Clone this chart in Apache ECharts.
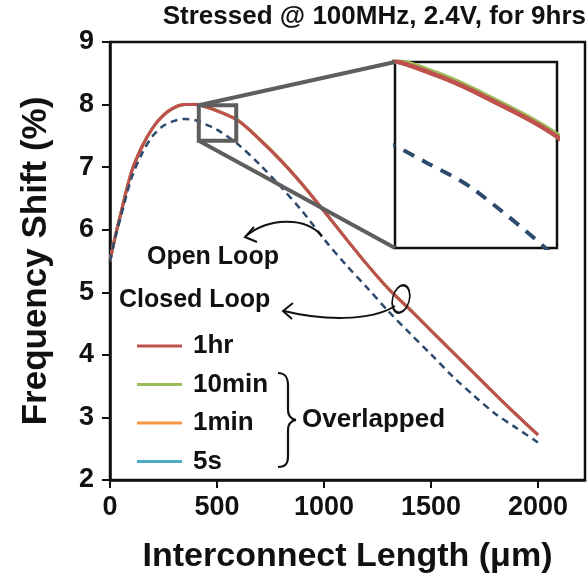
<!DOCTYPE html>
<html>
<head>
<meta charset="utf-8">
<script src="https://cdn.jsdelivr.net/npm/echarts@6/dist/echarts.min.js"></script>
<style>
  html, body { margin: 0; padding: 0; background: #fff; }
  #chart { width: 588px; height: 581px; }
</style>
</head>
<body>
<div id="chart"></div>
<script>
// interconnect length (um)
const lengths = [0, 25, 50, 100, 150, 200, 250, 300, 350, 400, 450, 500, 600, 700, 800, 900, 1000, 1100, 1200, 1300, 1400, 1500, 1600, 1700, 1800, 1900, 2000]

// closed loop, stressed for different times (all overlapped)
const closed1hr = [5.5, 5.9, 6.25, 6.92, 7.33, 7.63, 7.83, 7.95, 8.0, 8.0, 7.96, 7.9, 7.74, 7.44, 7.1, 6.72, 6.3, 5.87, 5.45, 5.06, 4.73, 4.39, 4.05, 3.71, 3.37, 3.04, 2.72]
const closed10min = [5.5, 5.9, 6.25, 6.92, 7.33, 7.63, 7.83, 7.95, 8.0, 8.005, 7.967, 7.907, 7.747, 7.447, 7.105, 6.72, 6.3, 5.87, 5.45, 5.06, 4.73, 4.39, 4.05, 3.71, 3.37, 3.04, 2.72]
const closed1min = [5.5, 5.9, 6.25, 6.92, 7.33, 7.63, 7.83, 7.95, 8.0, 8.0, 7.96, 7.9, 7.74, 7.44, 7.1, 6.72, 6.3, 5.87, 5.45, 5.06, 4.73, 4.39, 4.05, 3.71, 3.37, 3.04, 2.72]
const closed5s = [5.5, 5.9, 6.25, 6.92, 7.33, 7.63, 7.83, 7.95, 8.0, 8.0, 7.96, 7.9, 7.74, 7.44, 7.1, 6.72, 6.3, 5.87, 5.45, 5.06, 4.73, 4.39, 4.05, 3.71, 3.37, 3.04, 2.72]

// open loop (dashed)
const openLoop = [5.5, 5.88, 6.2, 6.82, 7.22, 7.5, 7.66, 7.74, 7.77, 7.75, 7.68, 7.6, 7.36, 7.04, 6.68, 6.29, 5.85, 5.45, 5.08, 4.7, 4.35, 4.01, 3.66, 3.35, 3.06, 2.83, 2.6]

const xTicks = [0, 500, 1000, 1500, 2000]
const yTicks = [2, 3, 4, 5, 6, 7, 8, 9]
const legendNames = ['1hr', '10min', '1min', '5s']

// region shown magnified in the inset
const zoomX = [415, 590]
const zoomY = [7.42, 7.99]

const FONT = 'Liberation Sans, Arial, sans-serif'
const colors = { '1hr': '#c0504d', '10min': '#9bbb59', '1min': '#f79646', '5s': '#4bacc6', open: '#2b4a6c' }

const toPairs = vals => lengths.map((x, i) => [x, vals[i]])

const closedSets = [
  ['5s', closed5s],
  ['1min', closed1min],
  ['10min', closed10min],
  ['1hr', closed1hr]
]

function makeSeries(grid, width, dashW) {
  const out = closedSets.map(([name, vals]) => ({
    name: name,
    type: 'line',
    xAxisIndex: grid,
    yAxisIndex: grid,
    data: toPairs(vals),
    smooth: 0.3,
    symbol: 'none',
    clip: true,
    color: colors[name],
    lineStyle: { width: width, color: colors[name] },
    z: 3
  }))
  out.push({
    name: 'Open Loop',
    type: 'line',
    xAxisIndex: grid,
    yAxisIndex: grid,
    data: toPairs(openLoop),
    smooth: 0.3,
    symbol: 'none',
    clip: true,
    color: colors.open,
    lineStyle: { width: dashW, color: colors.open, type: grid ? [12, 9] : [7, 5] },
    z: 3
  })
  return out
}

const chart = echarts.init(document.getElementById('chart'))

const inset = { left: 395, top: 62, width: 162, height: 186 }

const option = {
  animation: false,
  title: {
    text: 'Stressed @ 100MHz, 2.4V, for 9hrs',
    right: 2,
    top: 4,
    padding: 0,
    textStyle: { fontFamily: FONT, fontSize: 26, fontWeight: 'bold', color: '#111' }
  },
  legend: {
    data: legendNames,
    orient: 'vertical',
    left: 132,
    top: 328,
    icon: 'rect',
    itemWidth: 45,
    itemHeight: 3,
    itemGap: 12.5,
    textStyle: { fontFamily: FONT, fontSize: 26, fontWeight: 'bold', color: '#111', lineHeight: 26, padding: [0, 0, 0, 6] }
  },
  grid: [
    { left: 110, top: 42, width: 475, height: 438, show: true, borderColor: '#111', borderWidth: 2.5 },
    { left: inset.left, top: inset.top, width: inset.width, height: inset.height, show: true, borderColor: '#111', borderWidth: 2.5 }
  ],
  xAxis: [
    {
      type: 'value',
      gridIndex: 0,
      min: 0,
      max: 2220,
      interval: 500,
      name: 'Interconnect Length (μm)',
      nameLocation: 'middle',
      nameGap: 60,
      nameTextStyle: { fontFamily: FONT, fontSize: 34, fontWeight: 'bold', color: '#111' },
      axisLine: { lineStyle: { color: '#111', width: 2.5 } },
      axisTick: { length: 8, lineStyle: { color: '#111', width: 2 }, customValues: xTicks },
      axisLabel: { customValues: xTicks, formatter: v => String(v), margin: 14, fontFamily: FONT, fontSize: 27, fontWeight: 'bold', color: '#111' },
      splitLine: { show: false }
    },
    { type: 'value', gridIndex: 1, min: zoomX[0], max: zoomX[1], show: false }
  ],
  yAxis: [
    {
      type: 'value',
      gridIndex: 0,
      min: 2,
      max: 9,
      interval: 1,
      name: 'Frequency Shift (%)',
      nameLocation: 'middle',
      nameGap: 56,
      nameTextStyle: { fontFamily: FONT, fontSize: 35, fontWeight: 'bold', color: '#111' },
      axisLine: { lineStyle: { color: '#111', width: 2.5 } },
      axisTick: { length: 8, lineStyle: { color: '#111', width: 2 }, customValues: yTicks },
      axisLabel: { customValues: yTicks, margin: 16, fontFamily: FONT, fontSize: 27, fontWeight: 'bold', color: '#111' },
      splitLine: { show: false }
    },
    { type: 'value', gridIndex: 1, min: zoomY[0], max: zoomY[1], show: false }
  ],
  series: makeSeries(0, 3, 2.5).concat(makeSeries(1, 4.5, 4))
}

chart.setOption(option)

// zoom box + connectors, placed from data coordinates
const tl = chart.convertToPixel({ gridIndex: 0 }, [zoomX[0], zoomY[1]])
const br = chart.convertToPixel({ gridIndex: 0 }, [zoomX[1], zoomY[0]])
const gray = '#5e5e5e'
const ink = '#111'
const noFill = 'none'

const curve = (x1, y1, c1x, c1y, c2x, c2y, x2, y2, w) => ({
  type: 'bezierCurve', z: 10, silent: true,
  shape: { x1: x1, y1: y1, cpx1: c1x, cpy1: c1y, cpx2: c2x, cpy2: c2y, x2: x2, y2: y2 },
  style: { stroke: ink, lineWidth: w || 2, fill: noFill }
})
const seg = (x1, y1, x2, y2, w) => ({
  type: 'line', z: 10, silent: true,
  shape: { x1: x1, y1: y1, x2: x2, y2: y2 },
  style: { stroke: ink, lineWidth: w || 2 }
})
const label = (txt, x, y, size) => ({
  type: 'text', z: 10, silent: true, x: x, y: y,
  style: { text: txt, fontFamily: FONT, fontSize: size, fontWeight: 'bold', fill: ink, textVerticalAlign: 'middle' }
})

chart.setOption({
  graphic: [
    { type: 'line', z: 10, shape: { x1: tl[0], y1: tl[1], x2: inset.left, y2: inset.top }, style: { stroke: gray, lineWidth: 4 } },
    { type: 'line', z: 10, shape: { x1: tl[0], y1: br[1], x2: inset.left, y2: inset.top + inset.height }, style: { stroke: gray, lineWidth: 4 } },
    { type: 'rect', z: 10, shape: { x: tl[0], y: tl[1], width: br[0] - tl[0], height: br[1] - tl[1] }, style: { stroke: gray, lineWidth: 4, fill: noFill } },

    label('Open Loop', 147, 257, 25),
    label('Closed Loop', 119, 300, 25),
    label('Overlapped', 302, 420, 26),

    // open loop arrow
    curve(322, 236, 305, 216, 268, 218, 246, 236),
    { type: 'polyline', z: 10, shape: { points: [[254, 227], [245, 237], [257, 242]] }, style: { stroke: ink, lineWidth: 2, fill: noFill } },

    // closed loop marker + arrow
    { type: 'circle', z: 10, x: 401, y: 299, scaleX: 0.6, rotation: -0.25, shape: { cx: 0, cy: 0, r: 14 }, style: { stroke: ink, lineWidth: 2, fill: noFill, strokeNoScale: true } },
    curve(395, 306, 370, 322, 320, 320, 284, 311),
    { type: 'polyline', z: 10, shape: { points: [[293, 303], [283, 311], [292, 319]] }, style: { stroke: ink, lineWidth: 2, fill: noFill } },

    // brace grouping the overlapped legend entries
    curve(278, 373, 286, 373, 288, 378, 288, 386, 2.2),
    seg(288, 386, 288, 410, 2.2),
    curve(288, 410, 288, 416, 291, 419, 296, 420, 2.2),
    curve(296, 420, 291, 421, 288, 424, 288, 430, 2.2),
    seg(288, 430, 288, 456, 2.2),
    curve(288, 456, 288, 463, 286, 467, 278, 467, 2.2)
  ]
})

window.addEventListener('resize', () => chart.resize())
</script>
</body>
</html>
